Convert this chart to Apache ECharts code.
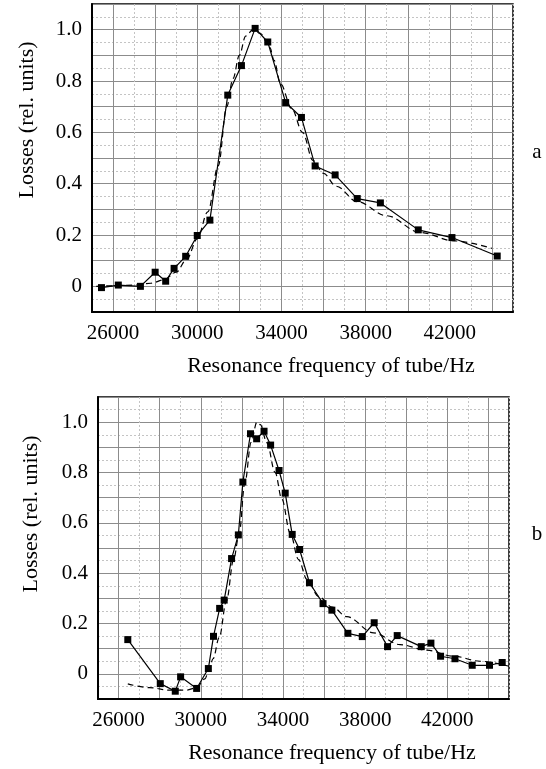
<!DOCTYPE html>
<html>
<head>
<meta charset="utf-8">
<script src="https://cdn.jsdelivr.net/npm/echarts@6/dist/echarts.min.js"></script>
<style>
html,body{margin:0;padding:0;background:#fff;}
#chart{width:546px;height:769px;}
</style>
</head>
<body>
<div id="chart"></div>
<script>
// ---- Data ----
const freqA = [25450, 26250, 27300, 28000, 28500, 28900, 29450, 30000, 30600, 31450, 32100, 32750, 33350, 34200, 34950, 35600, 36550, 37600, 38700, 40500, 42100, 44250];
const lossA = [-0.005, 0.005, 0.0, 0.055, 0.02, 0.07, 0.117, 0.198, 0.258, 0.745, 0.86, 1.005, 0.952, 0.716, 0.658, 0.469, 0.434, 0.342, 0.325, 0.22, 0.19, 0.118];
const fitFreqA = [25200, 26000, 27000, 27800, 28400, 29000, 29500, 30000, 30500, 31000, 31400, 31700, 32000, 32300, 32650, 33000, 33450, 33650, 33950, 34500, 35000, 35500, 36000, 36600, 37600, 39000, 40600, 42200, 44000];
const fitLossA = [0.0, 0.002, 0.005, 0.012, 0.025, 0.055, 0.105, 0.185, 0.29, 0.47, 0.7, 0.81, 0.9, 0.975, 1.0, 0.985, 0.93, 0.88, 0.79, 0.69, 0.6, 0.49, 0.44, 0.39, 0.33, 0.275, 0.21, 0.177, 0.148];

const freqB = [26450, 28030, 28760, 29020, 29800, 30370, 30620, 30920, 31140, 31500, 31830, 32050, 32420, 32720, 33080, 33400, 33810, 34110, 34450, 34810, 35290, 35950, 36380, 37160, 37860, 38440, 39090, 39560, 40730, 41200, 41670, 42370, 43210, 44050, 44670];
const lossB = [0.136, -0.039, -0.069, -0.012, -0.058, 0.021, 0.149, 0.26, 0.293, 0.458, 0.552, 0.762, 0.954, 0.934, 0.964, 0.909, 0.808, 0.718, 0.554, 0.494, 0.362, 0.279, 0.253, 0.161, 0.148, 0.203, 0.108, 0.152, 0.108, 0.122, 0.07, 0.06, 0.034, 0.034, 0.045];
const fitFreqB = [26450, 27500, 28500, 29300, 29800, 30200, 30400, 30600, 30900, 31250, 31600, 31860, 32150, 32450, 32730, 32900, 33220, 33620, 33950, 34350, 34760, 35170, 35730, 36400, 37110, 38410, 39700, 41000, 42300, 43600, 45000];
const fitLossB = [-0.04, -0.055, -0.065, -0.065, -0.055, -0.02, 0.015, 0.06, 0.145, 0.29, 0.455, 0.55, 0.76, 0.92, 1.0, 0.99, 0.918, 0.8, 0.693, 0.56, 0.454, 0.375, 0.308, 0.265, 0.227, 0.163, 0.116, 0.094, 0.07, 0.05, 0.03];

const xTickLabels = [26000, 30000, 34000, 38000, 42000];
const yTickLabels = [0, 0.2, 0.4, 0.6, 0.8, 1.0];
const xTitle = 'Resonance frequency of tube/Hz';
const yTitle = 'Losses (rel. units)';
const panelNames = ['a', 'b'];

// ---- Chart ----
const FONT = '"Liberation Serif", "Times New Roman", serif';
const pairs = (xs, ys) => xs.map((x, i) => [x, ys[i]]);

function xAxisMain(gridIndex) {
  return {
    type: 'value', gridIndex: gridIndex, min: 25000, max: 45000, interval: 1000,
    axisLine: { show: true, onZero: false, lineStyle: { color: '#000', width: 2 } },
    axisTick: { show: false },
    axisLabel: {
      fontSize: 21, fontFamily: FONT, color: '#000', margin: 11,
      formatter: v => xTickLabels.indexOf(Math.round(v)) >= 0 ? String(Math.round(v)) : ''
    },
    splitLine: { show: true, showMinLine: true, showMaxLine: true, lineStyle: { color: '#c4c4c4', type: [2, 2], width: 1 } }
  };
}
function xAxisMajor(gridIndex) {
  return {
    type: 'value', gridIndex: gridIndex, min: 25000, max: 45000, interval: 1000, position: 'bottom',
    axisLine: { show: false }, axisTick: { show: false }, axisLabel: { show: false },
    splitLine: { show: true, showMinLine: true, showMaxLine: true, lineStyle: { color: ['rgba(0,0,0,0)', '#8c8c8c'], width: 1 } }
  };
}
function yAxis(gridIndex) {
  return {
    type: 'value', gridIndex: gridIndex, min: -0.1, max: 1.1, interval: 0.1,
    axisLine: { show: true, onZero: false, lineStyle: { color: '#000', width: 2 } },
    axisTick: { show: false },
    axisLabel: {
      fontSize: 21, fontFamily: FONT, color: '#000', margin: 10,
      formatter: v => {
        const r = Math.round(v * 10) / 10;
        if (!yTickLabels.some(t => Math.abs(t - r) < 1e-6)) return '';
        return r === 0 ? '0' : r.toFixed(1);
      }
    },
    splitLine: { show: true, lineStyle: { color: '#8c8c8c', width: 1 } },
    minorTick: { show: false, splitNumber: 2 },
    minorSplitLine: { show: true, lineStyle: { color: '#c4c4c4', type: [2, 2], width: 1 } }
  };
}
function measured(name, xIdx, yIdx, data) {
  return {
    name: name, type: 'line', xAxisIndex: xIdx, yAxisIndex: yIdx, data: data,
    symbol: 'rect', symbolSize: 7, showSymbol: true,
    itemStyle: { color: '#000' }, lineStyle: { color: '#000', width: 1.2 },
    z: 5, animation: false
  };
}
function fitted(name, xIdx, yIdx, data) {
  return {
    name: name, type: 'line', xAxisIndex: xIdx, yAxisIndex: yIdx, data: data,
    symbol: 'none', smooth: 0.35, smoothMonotone: 'x',
    lineStyle: { color: '#000', width: 1.2, type: [6, 4] },
    z: 4, animation: false
  };
}

const chart = echarts.init(document.getElementById('chart'), null, { renderer: 'canvas' });
chart.setOption({
  backgroundColor: '#fff',
  animation: false,
  grid: [
    { left: 92, top: 4, width: 421, height: 308, show: true, borderColor: '#000', borderWidth: 1.5, backgroundColor: 'transparent' },
    { left: 98, top: 397, width: 411, height: 302, show: true, borderColor: '#000', borderWidth: 1.5, backgroundColor: 'transparent' }
  ],
  xAxis: [xAxisMain(0), xAxisMajor(0), xAxisMain(1), xAxisMajor(1)],
  yAxis: [yAxis(0), yAxis(1)],
  series: [
    fitted('fit a', 0, 0, pairs(fitFreqA, fitLossA)),
    measured('measured a', 0, 0, pairs(freqA, lossA)),
    fitted('fit b', 2, 1, pairs(fitFreqB, fitLossB)),
    measured('measured b', 2, 1, pairs(freqB, lossB))
  ],
  graphic: [
    { type: 'text', x: 27, y: 120, rotation: Math.PI / 2, style: { text: yTitle, font: '22px ' + FONT, fill: '#000', textAlign: 'center', textVerticalAlign: 'middle' } },
    { type: 'text', x: 331, y: 366, style: { text: xTitle, font: '22px ' + FONT, fill: '#000', textAlign: 'center', textVerticalAlign: 'middle' } },
    { type: 'text', x: 537, y: 152, style: { text: panelNames[0], font: '21px ' + FONT, fill: '#000', textAlign: 'center', textVerticalAlign: 'middle' } },
    { type: 'text', x: 31, y: 514, rotation: Math.PI / 2, style: { text: yTitle, font: '22px ' + FONT, fill: '#000', textAlign: 'center', textVerticalAlign: 'middle' } },
    { type: 'text', x: 332, y: 753, style: { text: xTitle, font: '22px ' + FONT, fill: '#000', textAlign: 'center', textVerticalAlign: 'middle' } },
    { type: 'text', x: 537, y: 534, style: { text: panelNames[1], font: '21px ' + FONT, fill: '#000', textAlign: 'center', textVerticalAlign: 'middle' } }
  ]
});
</script>
</body>
</html>
